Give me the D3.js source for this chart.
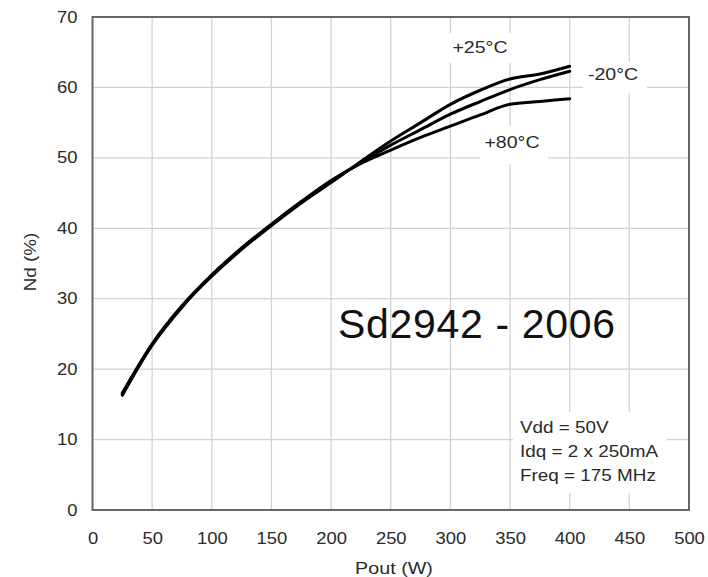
<!DOCTYPE html>
<html>
<head>
<meta charset="utf-8">
<script src="https://cdn.jsdelivr.net/npm/d3@7"></script>
<style>
  body { margin: 0; background: #fff; }
  text { font-family: "Liberation Sans", Arial, sans-serif; }
</style>
</head>
<body>
<div id="chart"></div>
<script>
// Pout (W) sample points shared by the three curves
const pout = [25, 50, 75, 100, 125, 150, 175, 200, 225, 250, 275, 300, 325, 350, 375, 400];

// Drain efficiency (%)
const nd25 = [16.5, 23.5, 28.9, 33.2, 37.0, 40.4, 43.6, 46.5, 49.5, 52.4, 55.0, 57.6, 59.6, 61.2, 61.9, 63.0];
const ndm20 = [16.3, 23.4, 28.8, 33.3, 37.1, 40.5, 43.7, 46.7, 49.3, 51.8, 54.0, 56.2, 58.0, 59.7, 61.1, 62.3];
const nd80 = [16.6, 23.6, 29.0, 33.4, 37.2, 40.6, 43.8, 46.8, 49.2, 51.1, 52.9, 54.5, 56.1, 57.6, 58.0, 58.4];

const xTicks = [0, 50, 100, 150, 200, 250, 300, 350, 400, 450, 500];
const yTicks = [0, 10, 20, 30, 40, 50, 60, 70];

const conditions = ["Vdd = 50V", "Idq = 2 x 250mA", "Freq = 175 MHz"];

const series = [
  { name: "+25°C", values: nd25 },
  { name: "-20°C", values: ndm20 },
  { name: "+80°C", values: nd80 },
];

const config = {
  width: 708,
  height: 577,
  left: 92.5,
  right: 689,
  top: 17,
  bottom: 510,
};

// the source picture is a bit wider than tall, so text is stretched sideways
function stretch(sel, k) {
  sel.each(function () {
    const w = this.getComputedTextLength();
    d3.select(this)
      .attr("textLength", w * k)
      .attr("lengthAdjust", "spacingAndGlyphs");
  });
}

const svg = d3
  .select("#chart")
  .append("svg")
  .attr("width", config.width)
  .attr("height", config.height);

const x = d3.scaleLinear().domain([0, 500]).range([config.left, config.right]);
const y = d3.scaleLinear().domain([0, 70]).range([config.bottom, config.top]);

// grid
const grid = svg.append("g");
grid
  .selectAll(".vgrid")
  .data(xTicks.slice(1, -1))
  .join("line")
  .attr("x1", (d) => x(d))
  .attr("x2", (d) => x(d))
  .attr("y1", config.top)
  .attr("y2", config.bottom)
  .attr("stroke", "#d2d2d2")
  .attr("stroke-width", 1.3);
grid
  .selectAll(".hgrid")
  .data(yTicks.slice(1, -1))
  .join("line")
  .attr("x1", config.left)
  .attr("x2", config.right)
  .attr("y1", (d) => y(d))
  .attr("y2", (d) => y(d))
  .attr("stroke", "#d2d2d2")
  .attr("stroke-width", 1.3);

// white boxes that hide the grid behind the labels
const masks = [
  { x0: 440, x1: 520, y0: 33, y1: 63 },
  { x0: 583, x1: 647, y0: 62, y1: 93 },
  { x0: 480, x1: 548, y0: 126, y1: 164 },
  { x0: 513, x1: 667, y0: 412, y1: 493 },
];
svg
  .selectAll(".mask")
  .data(masks)
  .join("rect")
  .attr("x", (d) => d.x0)
  .attr("y", (d) => d.y0)
  .attr("width", (d) => d.x1 - d.x0)
  .attr("height", (d) => d.y1 - d.y0)
  .attr("fill", "#fff");

// frame
svg
  .append("rect")
  .attr("x", config.left)
  .attr("y", config.top)
  .attr("width", config.right - config.left)
  .attr("height", config.bottom - config.top)
  .attr("fill", "none")
  .attr("stroke", "#666")
  .attr("stroke-width", 2);

// axes (labels only, the frame draws the lines)
const xAxis = svg
  .append("g")
  .attr("transform", `translate(0,${config.bottom})`)
  .call(d3.axisBottom(x).tickValues(xTicks).tickSize(0).tickPadding(23));
const yAxis = svg
  .append("g")
  .attr("transform", `translate(${config.left},0)`)
  .call(d3.axisLeft(y).tickValues(yTicks).tickSize(0).tickPadding(15));
[xAxis, yAxis].forEach((a) => {
  a.select(".domain").remove();
  a.selectAll("text")
    .attr("fill", "#2a2a2a")
    .style("font-size", "16px")
    .style("font-family", "'Liberation Sans', Arial, sans-serif")
    .call(stretch, 1.15);
});

svg
  .append("text")
  .attr("x", 394)
  .attr("y", 574)
  .attr("text-anchor", "middle")
  .attr("fill", "#2a2a2a")
  .style("font-size", "17px")
  .text("Pout (W)")
  .call(stretch, 1.16);

svg
  .append("text")
  .attr("transform", "translate(36,262) rotate(-90)")
  .attr("text-anchor", "middle")
  .attr("fill", "#2a2a2a")
  .style("font-size", "16px")
  .text("Nd (%)")
  .call(stretch, 1.18);

// curves
const line = d3
  .line()
  .x((d) => x(d[0]))
  .y((d) => y(d[1]))
  .curve(d3.curveMonotoneX);

svg
  .selectAll(".curve")
  .data(series)
  .join("path")
  .attr("d", (s) => line(pout.map((p, i) => [p, s.values[i]])))
  .attr("fill", "none")
  .attr("stroke", "#000")
  .attr("stroke-width", 3)
  .attr("stroke-linejoin", "round")
  .attr("stroke-linecap", "round");

// curve labels
const curveLabels = [
  { text: "+25°C", x: 480, y: 53 },
  { text: "-20°C", x: 613, y: 80 },
  { text: "+80°C", x: 512, y: 148 },
];
svg
  .selectAll(".clabel")
  .data(curveLabels)
  .join("text")
  .attr("x", (d) => d.x)
  .attr("y", (d) => d.y)
  .attr("text-anchor", "middle")
  .attr("fill", "#2a2a2a")
  .style("font-size", "17px")
  .text((d) => d.text)
  .call(stretch, 1.15);

svg
  .append("text")
  .attr("x", 338)
  .attr("y", 338)
  .attr("fill", "#111")
  .style("font-size", "41px")
  .attr("textLength", 277)
  .text("Sd2942 - 2006");

svg
  .selectAll(".cond")
  .data(conditions)
  .join("text")
  .attr("x", 520)
  .attr("y", (d, i) => 433 + i * 24)
  .attr("fill", "#2a2a2a")
  .style("font-size", "16px")
  .text((d) => d)
  .call(stretch, 1.18);
</script>
</body>
</html>
